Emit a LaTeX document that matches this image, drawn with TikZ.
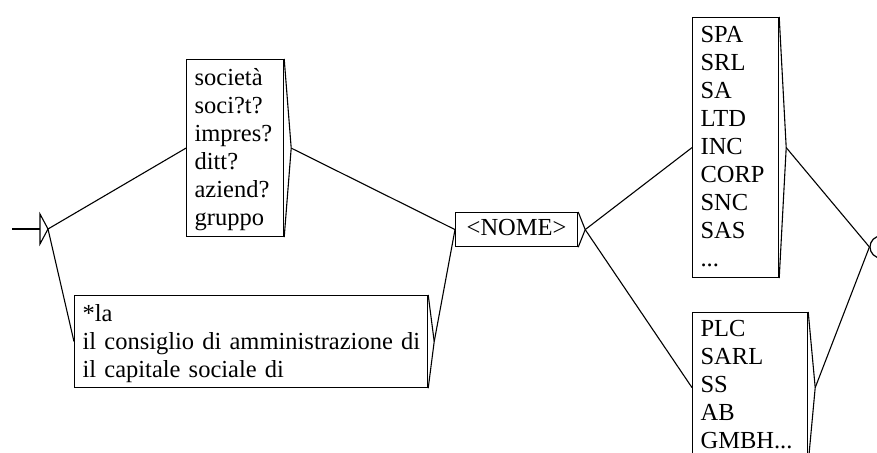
\documentclass[tikz,border=0pt]{standalone}
\usepackage{fontspec}
\setmainfont{Liberation Serif}
\begin{document}
\begin{tikzpicture}[x=1pt,y=-1pt,line width=1.2pt,
  box/.style={draw, inner xsep=8pt, inner ysep=0pt, align=left, anchor=north west,
    font=\fontsize{24.5}{28}\selectfont},
  conn/.style={line width=1.1pt},
  tri/.style={line width=1.1pt}]
\useasboundingbox (0,0) rectangle (877,452);
\clip (0,0) rectangle (877,452);
% initial state
\coordinate (s0) at (12,229);
\coordinate (s1) at (40,229);
\coordinate (st) at (48,229);
\draw[conn] (s0) -- (s1);
\draw[tri] (40,214) -- (st) -- (40,244) -- cycle;
% boxes
\node[box, text width=81pt, text height=26pt, text depth=151pt] (b1) at (186,59)
  {società\\soci?t?\\impres?\\ditt?\\aziend?\\gruppo};
\node[box, text width=337pt, text height=26pt, text depth=66pt] (b2) at (74,295)
  {*la\\\mbox{il consiglio di amministrazione di}\\\mbox{il capitale sociale di}};
\node[box, text width=106pt, align=center, text height=23pt, text depth=11pt] (nome) at (455,212)
  {<NOME>};
\node[box, text width=70pt, text height=25pt, text depth=235pt] (b3) at (692,17)
  {SPA\\SRL\\SA\\LTD\\INC\\CORP\\SNC\\SAS\\...};
\node[box, text width=99pt, text height=24pt, text depth=126pt] (b4) at (692,312)
  {PLC\\SARL\\SS\\AB\\\mbox{GMBH...}};
\node[draw, circle, minimum size=22pt, inner sep=0pt] (fin) at (881,247) {};
% output triangles
\foreach \n/\d in {b1/7, b2/6, nome/7, b3/7, b4/7}{
  \coordinate (\n a) at ([xshift=\d pt]\n.east);
  \draw[tri] (\n.north east) -- (\n a) -- (\n.south east);
}
% connectors
\draw[conn] (st) -- (b1.west);
\draw[conn] (st) -- (b2.west);
\draw[conn] (b1a) -- (nome.west);
\draw[conn] (b2a) -- (nome.west);
\draw[conn] (nomea) -- (b3.west);
\draw[conn] (nomea) -- (b4.west);
\draw[conn] (b3a) -- (fin.west);
\draw[conn] (b4a) -- (fin.west);
\end{tikzpicture}
\end{document}
